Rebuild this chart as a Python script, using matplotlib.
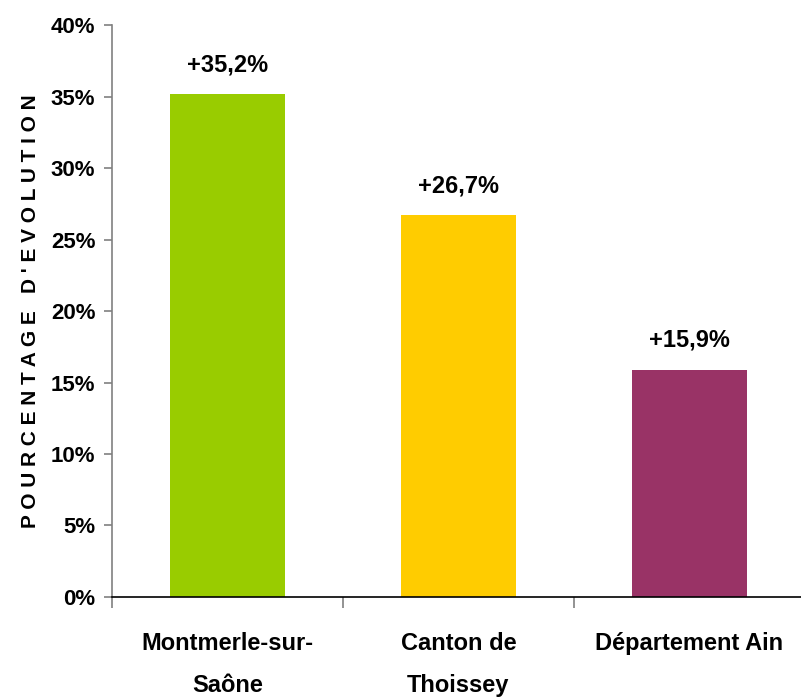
import matplotlib
matplotlib.use("Agg")
from matplotlib import pyplot as plt
from matplotlib.ticker import FixedLocator

# data
categories = ["Montmerle-sur-\nSaône", "Canton de\nThoissey", "Département Ain"]
evolution = [35.2, 26.7, 15.9]
value_labels = ["+35,2%", "+26,7%", "+15,9%"]
bar_colors = ["#99CC00", "#FFCC00", "#993366"]
y_ticks = [0, 5, 10, 15, 20, 25, 30, 35, 40]

plt.rcParams['font.family'] = ['Liberation Sans', 'DejaVu Sans']
plt.rcParams['font.weight'] = 'bold'

fig = plt.figure(figsize=(8.01, 6.99), dpi=100)
ax = fig.add_axes([0.1398, 0.146, 0.865, 0.818])

x = range(len(categories))
bars = ax.bar(x, evolution, width=0.5, color=bar_colors)

for i, b in enumerate(bars):
    ax.annotate(value_labels[i], (b.get_x() + b.get_width() / 2, b.get_height()),
                xytext=(0, 21), textcoords='offset points', ha='center', va='center',
                fontsize=17, fontweight='bold')

ax.set_xlim(-0.5, 2.5)
ax.set_ylim(0, 40)
ax.set_yticks(y_ticks)
ax.set_yticklabels([f"{v}%" for v in y_ticks], fontsize=16, fontweight='bold')
ax.set_xticks(list(x))
ax.set_xticklabels(categories, fontsize=17, fontweight='bold', linespacing=2.1)
ax.xaxis.set_minor_locator(FixedLocator([-0.5, 0.5, 1.5, 2.5]))
ax.tick_params(axis='x', which='major', length=0, pad=25)
ax.tick_params(axis='x', which='minor', length=8, width=1.2, color='#808080', direction='out')
ax.tick_params(axis='y', length=6, width=1.2, color='#808080', direction='out', pad=6)

ax.set_ylabel("P O U R C E N T A G E   D ' E V O L U T I O N", fontsize=15,
              fontweight='bold', labelpad=8)

for s in ['top', 'right']:
    ax.spines[s].set_visible(False)
ax.spines['left'].set_color('#808080')
ax.spines['left'].set_linewidth(1.2)
ax.spines['bottom'].set_color('black')
ax.spines['bottom'].set_linewidth(1.2)

fig.savefig("out.png", dpi=100)
